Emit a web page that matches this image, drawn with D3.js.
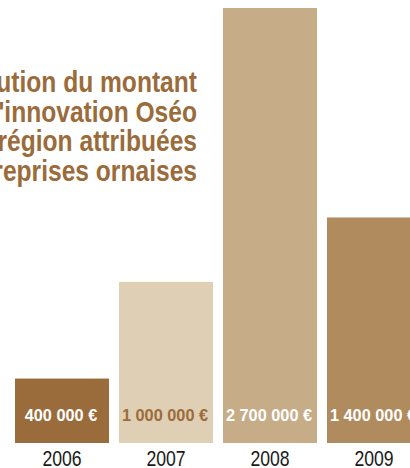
<!DOCTYPE html>
<html>
<head>
<meta charset="utf-8">
<script src="https://cdn.jsdelivr.net/npm/d3@7"></script>
<style>
  body { margin: 0; background: #fff; }
  svg { display: block; }
</style>
</head>
<body>
<div class="canvas"></div>
<script>
const years = ['2006', '2007', '2008', '2009'];
const amounts = [400000, 1000000, 2700000, 1400000];
const amountLabels = ['400 000 €', '1 000 000 €', '2 700 000 €', '1 400 000 €'];
const barColors = ['#9b6c3b', '#dfcfb4', '#c7ac88', '#af8b5e'];
const labelColors = ['#fff', '#9b6c3b', '#fff', '#fff'];
const titleLines = [
    'Évolution du montant',
    "de l'aide à l'innovation Oséo",
    'en région attribuées',
    'aux entreprises ornaises'
];

const svgWidth = 410;
const svgHeight = 468;
const baseY = 443;
const font = 'Liberation Sans, Arial, sans-serif';

const svg = d3.select('.canvas')
    .append('svg')
        .attr('width', svgWidth)
        .attr('height', svgHeight);

// Scales
const x = d3.scaleBand()
    .domain(years)
    .range([15, 421])
    .paddingInner(10 / 104)
    .paddingOuter(0);

const y = d3.scaleLinear()
    .domain([0, 2700000])
    .range([baseY, 8]);

// Bars
svg.selectAll('rect.bar')
    .data(years)
    .enter().append('rect')
        .attr('class', 'bar')
        .attr('x', d => x(d))
        .attr('y', (d, i) => y(amounts[i]))
        .attr('width', x.bandwidth())
        .attr('height', (d, i) => baseY - y(amounts[i]))
        .attr('fill', (d, i) => barColors[i]);

// Value labels inside the bars (condensed by a horizontal scale)
svg.selectAll('text.value')
    .data(years)
    .enter().append('text')
        .attr('class', 'value')
        .attr('transform', d => `translate(${x(d) + x.bandwidth() / 2 - 1}, 421) scale(0.96, 1)`)
        .attr('text-anchor', 'middle')
        .attr('font-family', font)
        .attr('font-weight', 'bold')
        .attr('font-size', 17)
        .attr('fill', (d, i) => labelColors[i])
        .text((d, i) => amountLabels[i]);

// Year axis
const xAxis = d3.axisBottom(x).tickSize(0).tickPadding(0);
const xAxisGroup = svg.append('g')
    .attr('class', 'x-axis')
    .attr('transform', `translate(0, ${baseY})`)
    .call(xAxis);

xAxisGroup.select('.domain').remove();
xAxisGroup.selectAll('text')
    .attr('y', 0)
    .attr('dy', 0)
    .attr('transform', 'translate(0, 23) scale(0.8, 1)')
    .attr('font-family', font)
    .attr('font-size', 22)
    .attr('fill', '#1a1a1a');

// Title (right aligned, overflowing the left edge)
svg.append('g')
    .attr('transform', 'translate(197, 0) scale(0.82, 1)')
    .selectAll('text')
    .data(titleLines)
    .enter().append('text')
        .attr('x', 0)
        .attr('y', (d, i) => 92 + i * 29.7)
        .attr('text-anchor', 'end')
        .attr('font-family', font)
        .attr('font-weight', 'bold')
        .attr('font-size', 30)
        .attr('fill', '#9b6c3b')
        .text(d => d);
</script>
</body>
</html>
